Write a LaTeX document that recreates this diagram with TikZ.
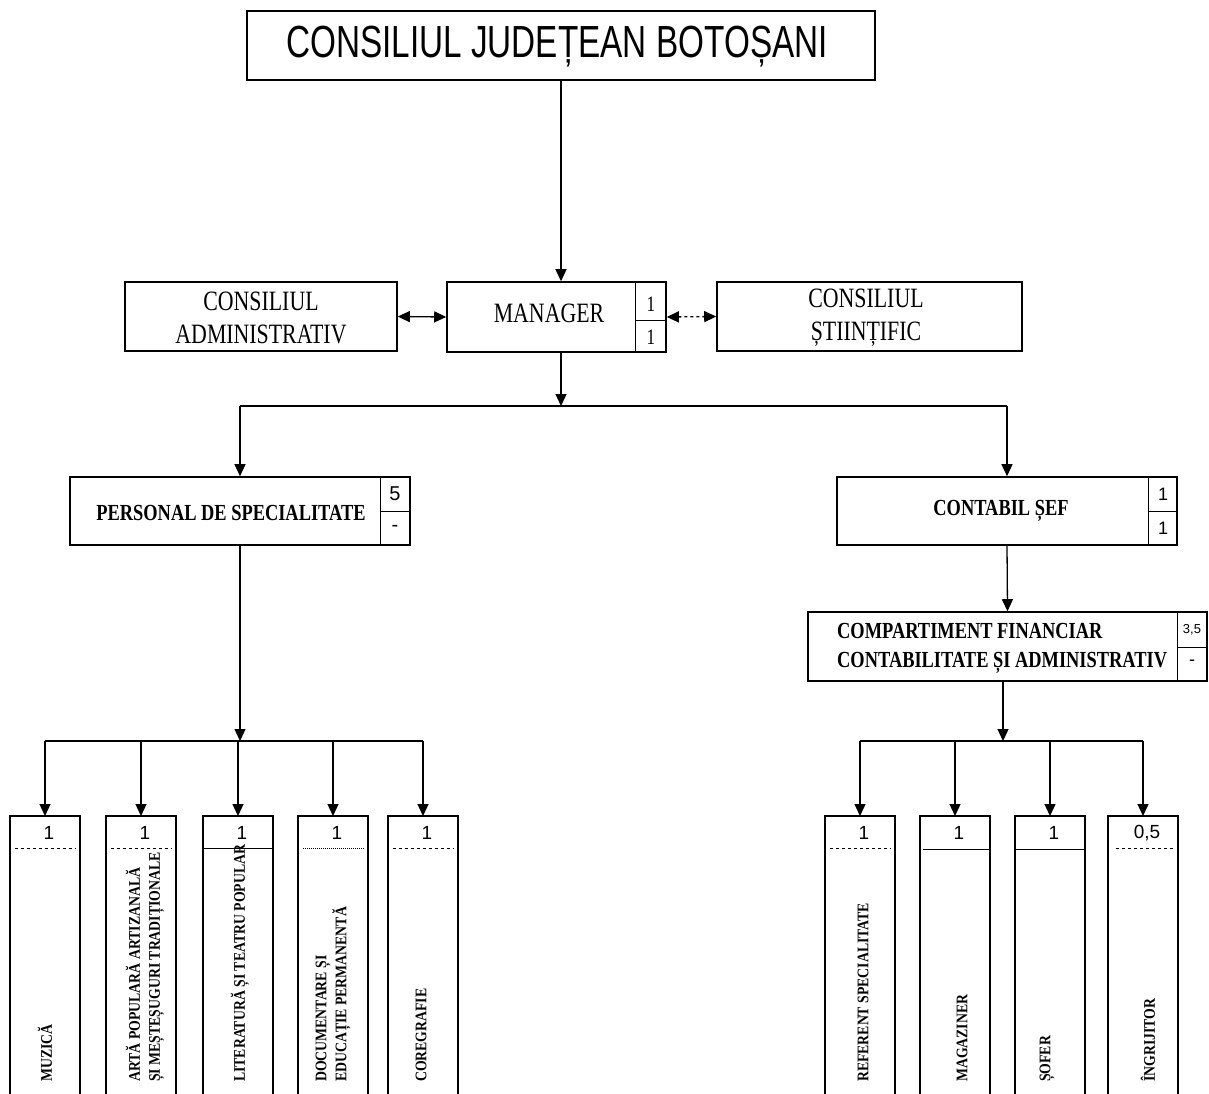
\documentclass[tikz,border=0pt]{standalone}
\usepackage{fontspec}
\usetikzlibrary{arrows.meta}
\newfontfamily\titlef[FakeStretch=0.74]{Liberation Sans}
\newfontfamily\serc[FakeStretch=0.78]{Liberation Serif}
\newfontfamily\serb[FakeStretch=0.8]{Liberation Serif}
\newfontfamily\rotf[FakeStretch=0.85]{Liberation Serif}
\newfontfamily\numf{Liberation Sans}
\begin{document}
\begin{tikzpicture}[x=1pt,y=-1pt,
  box/.style={draw, line width=1.6pt, inner sep=0pt},
  conn/.style={line width=1.3pt},
  arr/.style={conn, -{Triangle[length=12pt,width=11pt]}},
  darr/.style={conn, {Triangle[length=12pt,width=11pt]}-{Triangle[length=12pt,width=11pt]}},
  div/.style={line width=1pt},
  mid/.style={font=\serc\fontsize{28}{33}\selectfont, align=center, inner sep=0pt},
  bld/.style={font=\serb\bfseries\fontsize{23}{29}\selectfont, inner sep=0pt},
  rot/.style={rotate=90, anchor=west, inner sep=0pt, align=left, font=\rotf\bfseries\fontsize{16.2}{20}\selectfont},
  num/.style={font=\numf\fontsize{18}{18}\selectfont, inner sep=0pt},
  snum/.style={font=\serc\fontsize{22}{22}\selectfont, inner sep=0pt},
  colbox/.style={inner sep=0pt, minimum width=70pt, minimum height=290pt, anchor=north}
]
\clip (0,0) rectangle (1209,1093);
\fill[white] (0,0) rectangle (1209,1093);

% top
\node[box, minimum width=628pt, minimum height=69pt] (top) at (561,45.5) {};
\node[inner sep=0pt, font=\titlef\fontsize{45}{50}\selectfont] (toptxt) at (557,47) {CONSILIUL JUDEȚEAN BOTOȘANI};

% manager row
\node[box, minimum width=219pt, minimum height=70pt] (manager) at (556.5,317) {};
\node[mid] (mantxt) at (549,313) {MANAGER};
\draw[div] (635,282) -- (635,352);
\draw[div] (635,320) -- (666,320);
\node[snum] (m1) at (651,304) {1};
\node[snum] (m2) at (651,337) {1};

\node[box, minimum width=272pt, minimum height=69pt] (admin) at (261,316.5) {};
\node[mid] (admintxt) at (261,318) {CONSILIUL\\ADMINISTRATIV};

\node[box, minimum width=305pt, minimum height=69pt] (stiint) at (869.5,316.5) {};
\node[mid] (stiinttxt) at (866,318) {CONSILIUL\\ȘTIINȚIFIC};

\draw[arr] (top.south) -- (top.south |- manager.north);
\draw[darr] (admin.east) -- (manager.west);
\draw[darr, dashed] (manager.east) -- (stiint.west);

% second level
\coordinate (jm) at (561,406);
\node[box, minimum width=340pt, minimum height=68pt] (personal) at (240,511) {};
\node[bld] (perstxt) at (231,513) {PERSONAL DE SPECIALITATE};
\draw[div] (380,477) -- (380,545);
\draw[div] (380,511) -- (410,511);
\node[num, font=\numf\fontsize{20}{20}\selectfont] (p1) at (395,494) {5};
\node[num, font=\numf\fontsize{20}{20}\selectfont] (p2) at (395,528) {-};

\node[box, minimum width=340pt, minimum height=68pt] (contabil) at (1007,511) {};
\node[bld] (conttxt) at (1001,511) {CONTABIL ȘEF};
\draw[div] (1148,477) -- (1148,545);
\draw[div] (1148,511) -- (1177,511);
\node[num] (c1) at (1163,494) {1};
\node[num] (c2) at (1163,528) {1};

\draw[arr] (top.south |- manager.south) -- (jm);
\draw[conn] (personal.north |- jm) -- (contabil.north |- jm);
\draw[arr] (personal.north |- jm) -- (personal.north);
\draw[arr] (contabil.north |- jm) -- (contabil.north);

\node[box, minimum width=399pt, minimum height=69pt] (compart) at (1007.5,646.5) {};
\node[bld, anchor=west, align=left] (comptxt) at (837,648) {COMPARTIMENT FINANCIAR\\CONTABILITATE ȘI ADMINISTRATIV};
\draw[div] (1177,612) -- (1177,681);
\draw[div] (1177,647) -- (1207,647);
\node[num, font=\numf\fontsize{13}{13}\selectfont] (cp1) at (1192,630) {3,5};
\node[num] (cp2) at (1192,663) {-};

\draw[arr] (contabil.south) -- (compart.north);

% bottom left
\coordinate (jl) at (240,741);
\node[colbox] (b1) at (45,816) {};
\node[colbox] (b2) at (141,816) {};
\node[colbox] (b3) at (238,816) {};
\node[colbox] (b4) at (333,816) {};
\node[colbox] (b5) at (423,816) {};
\foreach \b in {b1,b2,b3,b4,b5}{
  \draw[line width=1.8pt] (\b.south west) |- (\b.north east) -- (\b.south east);
  \draw[arr] (\b.north |- jl) -- (\b.north);
}
\draw[arr] (personal.south) -- (jl);
\draw[conn] (b1.north |- jl) -- (b5.north |- jl);

% bottom right
\coordinate (jr) at (1003,741);
\node[colbox] (b6) at (860,816) {};
\node[colbox] (b7) at (955,816) {};
\node[colbox] (b8) at (1050,816) {};
\node[colbox] (b9) at (1143,816) {};
\foreach \b in {b6,b7,b8,b9}{
  \draw[line width=1.8pt] (\b.south west) |- (\b.north east) -- (\b.south east);
  \draw[arr] (\b.north |- jr) -- (\b.north);
}
\draw[arr] (compart.south -| jr) -- (jr);
\draw[conn] (b6.north |- jr) -- (b9.north |- jr);

% numbers and dividers
\foreach \b/\n in {b1/1,b2/1,b3/1,b4/1,b5/1,b6/1,b7/1,b8/1,b9/{0,5}}{
  \node[num, font=\numf\fontsize{19}{19}\selectfont] (\b n) at ([xshift=4pt,yshift=-17pt]\b.north) {\n};
}
\draw[div, dashed] ([xshift=5pt,yshift=-32pt]b1.north west) -- ([xshift=-5pt,yshift=-32pt]b1.north east);
\draw[div, dashed] ([xshift=5pt,yshift=-32pt]b2.north west) -- ([xshift=-5pt,yshift=-32pt]b2.north east);
\draw[div] ([yshift=-32pt]b3.north west) -- ([yshift=-32pt]b3.north east);
\draw[div, densely dotted] ([xshift=5pt,yshift=-32pt]b4.north west) -- ([xshift=-5pt,yshift=-32pt]b4.north east);
\draw[div, dashed] ([xshift=5pt,yshift=-32pt]b5.north west) -- ([xshift=-5pt,yshift=-32pt]b5.north east);
\draw[div, dashed] ([xshift=5pt,yshift=-32pt]b6.north west) -- ([xshift=-5pt,yshift=-32pt]b6.north east);
\draw[div] ([xshift=3pt,yshift=-33pt]b7.north west) -- ([yshift=-33pt]b7.north east);
\draw[div] ([yshift=-33pt]b8.north west) -- ([yshift=-33pt]b8.north east);
\draw[div, dashed] ([xshift=8pt,yshift=-32pt]b9.north west) -- ([xshift=-5pt,yshift=-32pt]b9.north east);

% rotated texts
\node[rot] (t1) at (45,1082) {MUZICĂ};
\node[rot] (t2) at (145,1082) {ARTĂ POPULARĂ ARTIZANALĂ\\ȘI MEȘTEȘUGURI TRADIȚIONALE};
\node[rot] (t3) at (240,1082) {LITERATURĂ ȘI TEATRU POPULAR};
\node[rot] (t4) at (333,1082) {DOCUMENTARE ȘI\\EDUCAȚIE PERMANENTĂ};
\node[rot] (t5) at (421,1082) {COREGRAFIE};
\node[rot] (t6) at (863,1082) {REFERENT SPECIALITATE};
\node[rot] (t7) at (962,1082) {MAGAZINER};
\node[rot] (t8) at (1047,1082) {ȘOFER};
\node[rot] (t9) at (1148,1082) {ÎNGRIJITOR};
\end{tikzpicture}
\end{document}
